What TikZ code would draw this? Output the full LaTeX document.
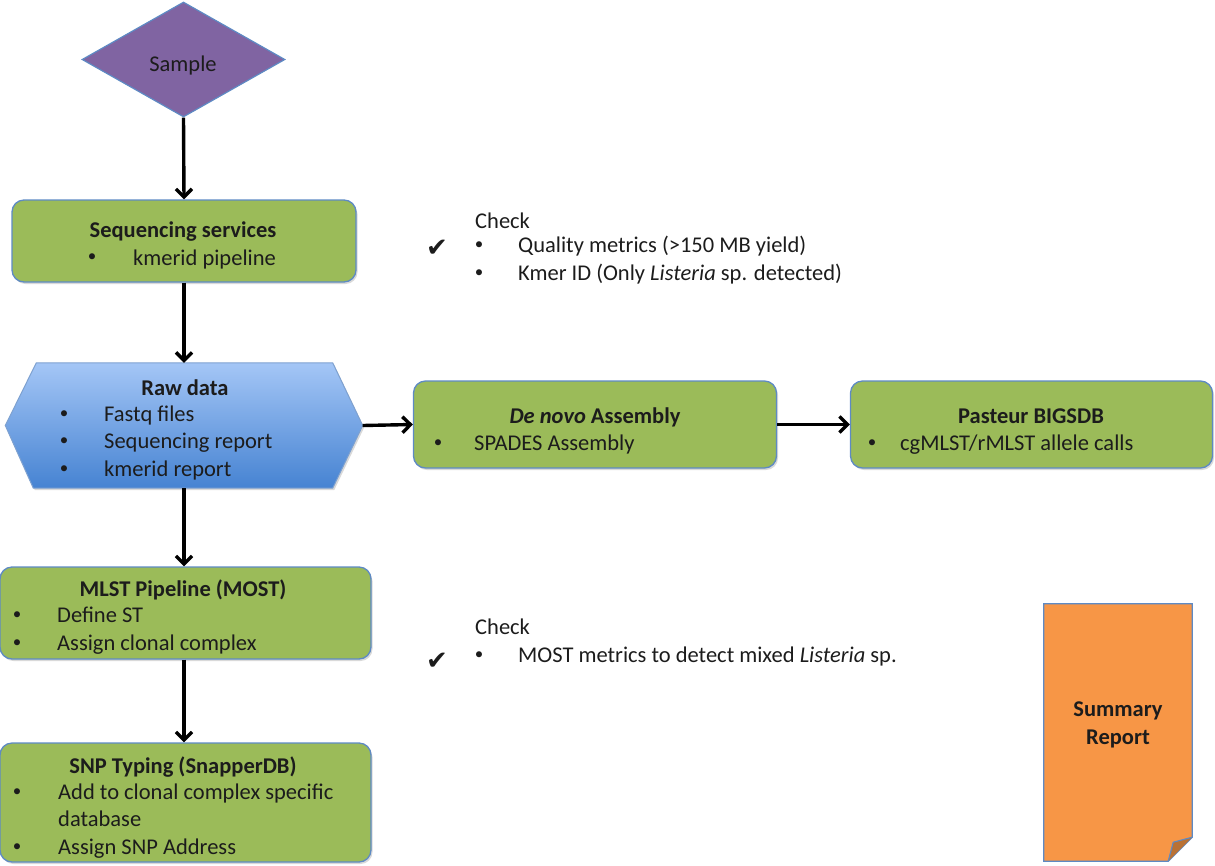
\documentclass[tikz,border=0pt]{standalone}
\usepackage{fontspec}
\setmainfont{Carlito}
\newfontfamily\symfont{DejaVu Sans}
\usetikzlibrary{arrows.meta,shapes.geometric,calc,shadows}
\definecolor{bordblue}{HTML}{5E8AC4}
\definecolor{boxgreen}{HTML}{9BBB59}
\definecolor{purp}{HTML}{8064A2}
\definecolor{orng}{HTML}{F79646}
\definecolor{txt}{HTML}{1C1C1C}
\definecolor{rawtop}{HTML}{A4C6F6}
\definecolor{rawbot}{HTML}{4683D2}
\begin{document}
\begin{tikzpicture}[x=1pt,y=-1pt,
  every node/.style={font=\fontsize{22.5}{28}\selectfont, text=txt},
  box/.style={draw=bordblue, line width=1.3pt, fill=boxgreen, rounded corners=12pt,
    inner sep=0, drop shadow={shadow xshift=1.5pt, shadow yshift=-2pt, opacity=0.3}},
  title/.style={font=\fontsize{22.5}{28}\selectfont\bfseries, inner sep=0, text height=19pt, text depth=4pt},
  bigtitle/.style={font=\fontsize{22.5}{28}\selectfont\bfseries, inner sep=0},
  item/.style={anchor=west, inner sep=0, text height=19pt, text depth=4pt},
  bul/.style={anchor=center, inner sep=0, font=\fontsize{17}{20}\selectfont},
  flow/.style={line width=3.4pt, -{Straight Barb[length=8pt,width=16pt]}},
  chk/.style={font=\symfont\fontsize{26}{28}\selectfont, inner sep=0}]
\useasboundingbox (0,0) rectangle (1215,865);

% Sample diamond
\node[diamond, draw=bordblue, line width=1.2pt, fill=purp, inner sep=0,
  minimum width=203pt, minimum height=115pt, aspect=1.76] (sample) at (183.5,59.5) {};
\node[inner sep=0] (sampletxt) at (183,65) {Sample};

% Sequencing services
\node[box, minimum width=344pt, minimum height=82pt] (seq) at (184,241) {};
\node[title] (seqt) at (183,230) {Sequencing services};
\node[bul] (seqb1) at (92,258) {•};
\node[item] (seqi1) at (133,258) {kmerid pipeline};

% Raw data hexagon
\node[inner sep=0, minimum width=357pt, minimum height=125pt] (raw) at (184,425.5) {};
\draw[draw=bordblue!80, line width=1pt, top color=rawtop, bottom color=rawbot,
  drop shadow={shadow xshift=1.5pt, shadow yshift=-2pt, opacity=0.3}]
  (raw.west) -- ($(raw.north west)+(31,0)$) -- ($(raw.north east)+(-30,0)$) -- (raw.east)
  -- ($(raw.south east)+(-30,0)$) -- ($(raw.south west)+(28,0)$) -- cycle;
\node[title] (rawt) at (185,388) {Raw data};
\node[bul] (rawb1) at (64,415) {•};
\node[bul] (rawb2) at (64,442) {•};
\node[bul] (rawb3) at (64,470) {•};
\node[item] (rawi1) at (104,414) {Fastq files};
\node[item] (rawi2) at (104,441) {Sequencing report};
\node[item] (rawi3) at (104,469) {kmerid report};

% De novo Assembly
\node[box, minimum width=363pt, minimum height=87pt] (denovo) at (595,424.5) {};
\node[title] (denovot) at (595,416) {\textit{De novo} Assembly};
\node[bul] (denovob1) at (438,444) {•};
\node[item] (denovoi1) at (474,443) {SPADES Assembly};

% Pasteur BIGSDB
\node[box, minimum width=362pt, minimum height=87pt] (pasteur) at (1031.5,424.5) {};
\node[title] (pasteurt) at (1031,416) {Pasteur BIGSDB};
\node[bul] (pasteurb1) at (872,444) {•};
\node[item] (pasteuri1) at (900,443) {cgMLST/rMLST allele calls};

% MLST Pipeline
\node[box, minimum width=371pt, minimum height=92pt] (mlst) at (185.5,613) {};
\node[title] (mlstt) at (183,589) {MLST Pipeline (MOST)};
\node[bul] (mlstb1) at (17,616) {•};
\node[bul] (mlstb2) at (17,644) {•};
\node[item] (mlsti1) at (57,615) {Define ST};
\node[item] (mlsti2) at (57,643) {Assign clonal complex};

% SNP Typing
\node[box, minimum width=371pt, minimum height=119pt] (snp) at (185.5,802.5) {};
\node[title] (snpt) at (183,766) {SNP Typing (SnapperDB)};
\node[bul] (snpb1) at (17,793) {•};
\node[bul] (snpb2) at (17,848) {•};
\node[item] (snpi1) at (58,792) {Add to clonal complex specific};
\node[item] (snpi1b) at (58,819) {database};
\node[item] (snpi2) at (58,847) {Assign SNP Address};

% Summary report (folded document)
\node[inner sep=0, minimum width=148pt, minimum height=257pt] (summary) at (1118,732.5) {};
\draw[draw=bordblue, line width=1.3pt, fill=orng]
  (summary.north west) -- (summary.north east) -- ($(summary.south east)+(0,-24)$)
  -- ($(summary.south east)+(-24,0)$) -- (summary.south west) -- cycle;
\draw[draw=bordblue, line width=1.1pt, fill=orng!75!black]
  ($(summary.south east)+(0,-24)$) -- ($(summary.south east)+(-19,-19)$) -- ($(summary.south east)+(-24,0)$);
\node[bigtitle, align=center] (summaryt) at (1118,725) {Summary\\Report};

% Check notes
\node[item] (check1) at (475,221) {Check};
\node[chk] (tick1) at (437,248) {✔};
\node[bul] (cb1) at (479,246) {•};
\node[bul] (cb2) at (479,274) {•};
\node[item] (ci1) at (518,245) {Quality metrics (>150 MB yield)};
\node[item] (ci2) at (518,273) {Kmer ID (Only \textit{Listeria} sp. detected)};

\node[item] (check2) at (475,627) {Check};
\node[chk] (tick2) at (437,661) {✔};
\node[bul] (cb3) at (479,656) {•};
\node[item] (ci3) at (518,655) {MOST metrics to detect mixed \textit{Listeria} sp.};

% Connectors
\draw[flow] (sample.south) -- (seq.north);
\draw[flow] (seq.south) -- (seq.south |- raw.north);
\draw[flow] (raw.east) -- (denovo.west);
\draw[flow] (denovo.east) -- (pasteur.west);
\draw[flow] (seq.south |- raw.south) -- (seq.south |- mlst.north);
\draw[flow] (seq.south |- mlst.south) -- (seq.south |- snp.north);
\end{tikzpicture}
\end{document}
